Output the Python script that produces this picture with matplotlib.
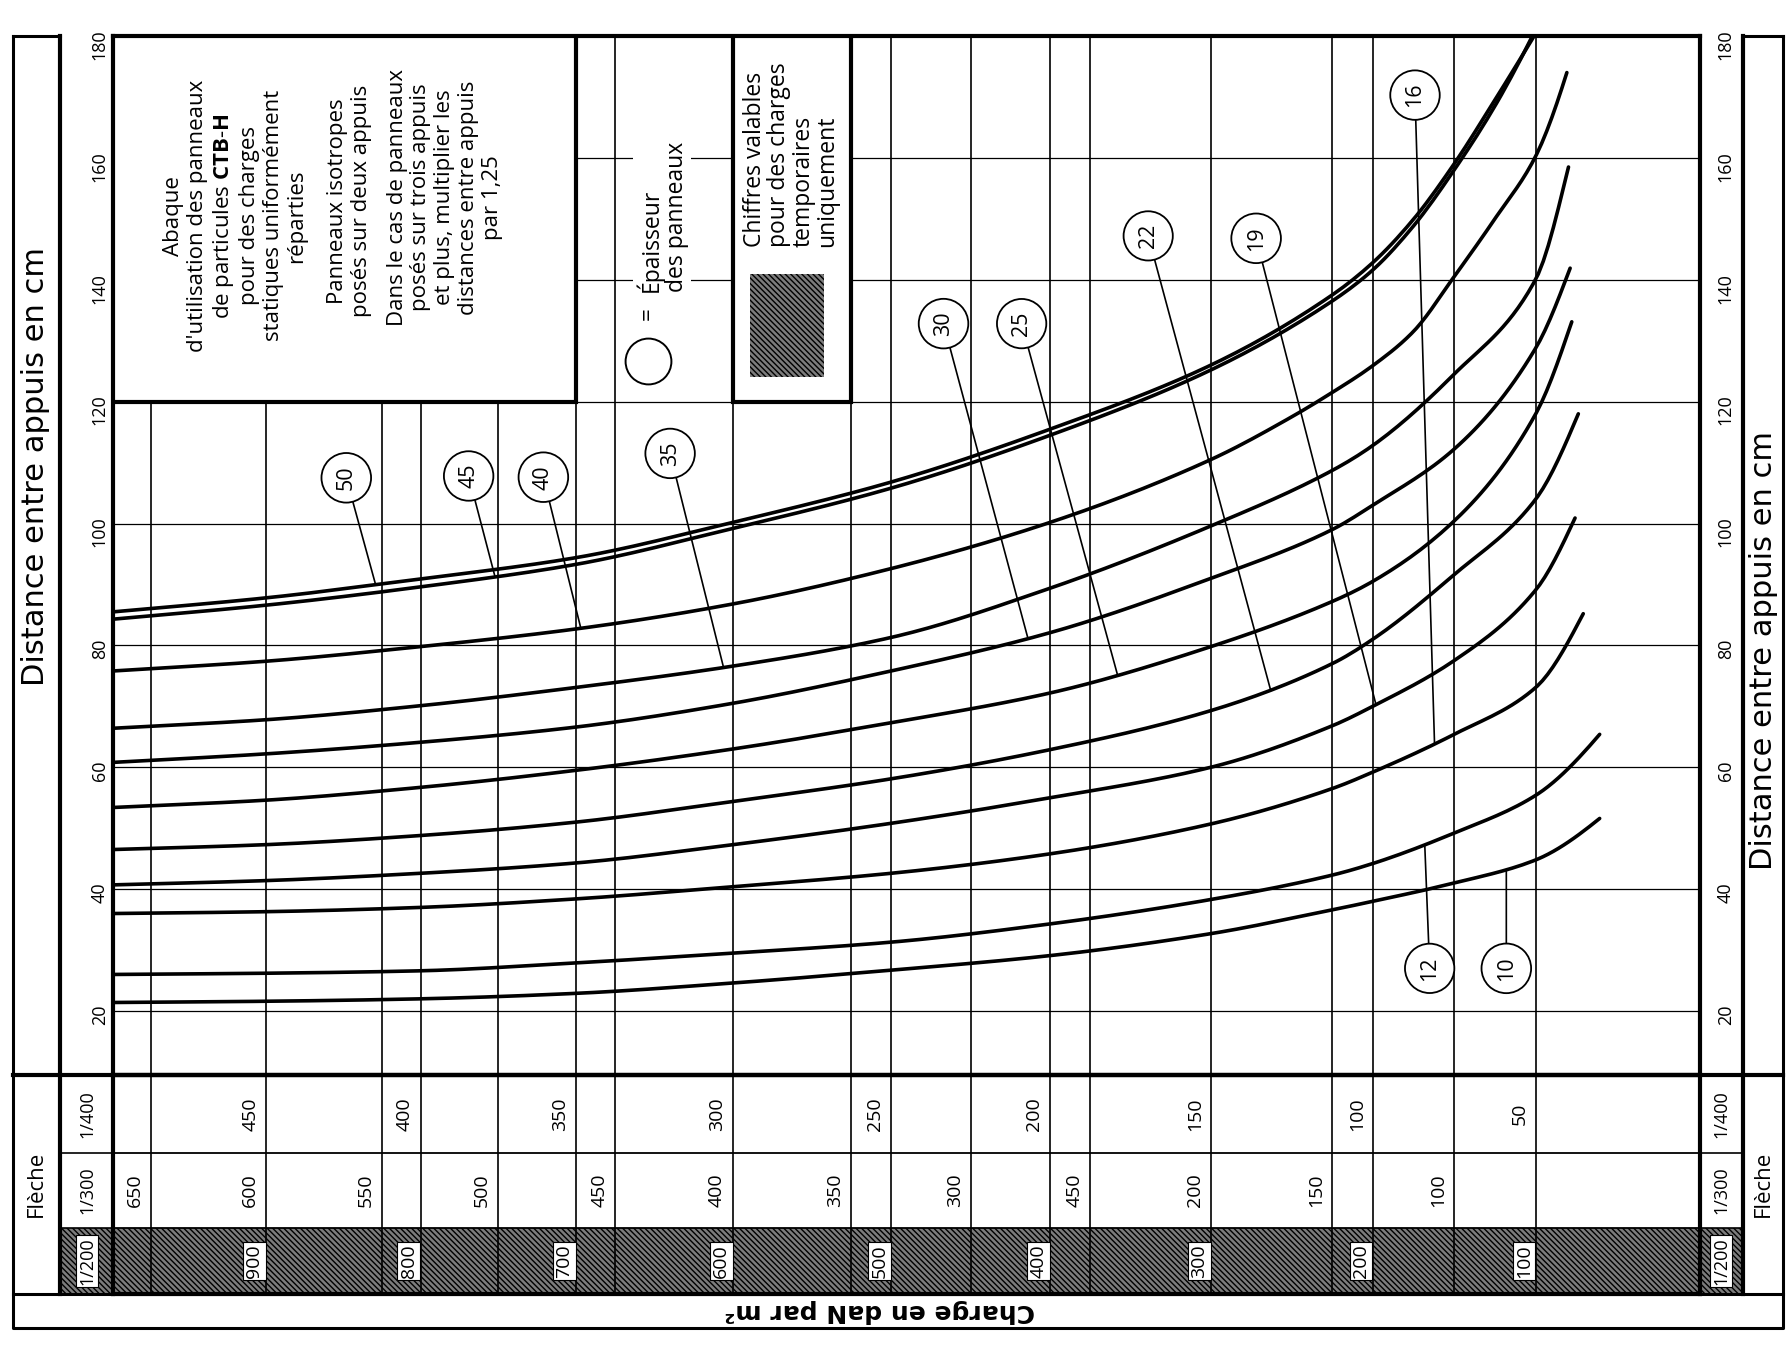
import numpy as np
import matplotlib
matplotlib.use("Agg")
import matplotlib.pyplot as plt
from matplotlib.patches import Rectangle

plt.rcParams['font.family'] = ['Open Sans', 'DejaVu Sans']
plt.rcParams['mathtext.fontset'] = 'custom'
plt.rcParams['mathtext.rm'] = 'Open Sans'
plt.rcParams['mathtext.bf'] = 'Open Sans:bold'
plt.rcParams['hatch.linewidth'] = 1.0

# charge (daN/m2, fleche 1/200) -> distance entre appuis (cm), one pair per thickness (mm)
c50 = [1000, 900, 800, 700, 600, 500, 400, 300, 225, 200, 175, 150, 125, 101]
d50 = [85.5, 87.8, 90.9, 94.4, 100.2, 106.8, 115.5, 126.0, 137.5, 142.8, 149.9, 159.0, 169.5, 180.0]
c45 = [1000, 900, 800, 700, 600, 500, 400, 300, 225, 200, 175, 150, 125, 103]
d45 = [84.3, 86.6, 89.6, 93.3, 99.2, 105.8, 114.5, 125.2, 136.5, 141.6, 148.8, 158.0, 168.5, 179.5]
c40 = [1000, 900, 800, 700, 600, 500, 400, 300, 250, 225, 200, 175, 150, 125, 100, 81]
d40 = [75.8, 77.4, 79.8, 82.7, 86.8, 92.6, 100.2, 110.5, 117.5, 121.5, 125.9, 131.5, 140.5, 150.0, 160.3, 174.0]
c35 = [1000, 900, 800, 700, 600, 500, 400, 300, 225, 200, 150, 100, 80]
d35 = [66.4, 67.8, 70.1, 73.1, 76.6, 81.3, 89.4, 99.6, 108.7, 112.8, 124.5, 140.1, 158.5]
c30 = [1000, 900, 800, 700, 600, 500, 400, 300, 225, 200, 150, 100, 79]
d30 = [60.8, 62.2, 64.1, 66.6, 70.5, 75.8, 82.1, 91.0, 99.0, 103.0, 112.2, 128.8, 141.9]
c25 = [1000, 900, 800, 700, 600, 500, 400, 300, 225, 200, 150, 100, 78]
d25 = [53.4, 54.6, 56.7, 59.5, 63.0, 67.3, 72.2, 79.8, 87.2, 90.5, 100.4, 118.0, 133.1]
c22 = [1000, 900, 800, 700, 600, 500, 400, 300, 225, 200, 150, 100, 74]
d22 = [46.5, 47.3, 48.8, 51.0, 54.4, 58.1, 62.9, 69.3, 77.0, 81.0, 91.6, 104.0, 118.0]
c19 = [1000, 900, 800, 700, 600, 500, 400, 300, 225, 200, 150, 100, 76]
d19 = [40.7, 41.4, 42.6, 44.3, 47.3, 50.8, 55.0, 60.0, 66.8, 70.0, 77.5, 89.1, 100.9]
c16 = [1000, 900, 800, 700, 600, 500, 400, 300, 225, 200, 150, 100, 71]
d16 = [36.0, 36.3, 37.0, 38.4, 40.4, 42.6, 45.8, 50.7, 56.5, 59.2, 65.4, 73.1, 85.2]
c12 = [1000, 900, 800, 700, 600, 500, 400, 300, 225, 200, 150, 100, 61]
d12 = [26.0, 26.2, 26.6, 27.9, 29.5, 31.3, 34.3, 38.3, 42.3, 44.2, 49.2, 55.4, 65.4]
c10 = [1000, 900, 800, 700, 600, 500, 400, 300, 225, 200, 150, 100, 61]
d10 = [21.4, 21.6, 22.0, 22.9, 24.6, 26.7, 29.1, 32.7, 36.6, 38.0, 41.0, 44.8, 51.6]

curves = {50: (c50, d50), 45: (c45, d45), 40: (c40, d40), 35: (c35, d35),
          30: (c30, d30), 25: (c25, d25), 22: (c22, d22), 19: (c19, d19),
          16: (c16, d16), 12: (c12, d12), 10: (c10, d10)}

# grid / scales
grid_charge = [975, 900, 825, 800, 750, 700, 675, 600, 525, 500, 450, 400, 375, 300, 225, 200, 150, 100]
dist_ticks = [20, 40, 60, 80, 100, 120, 140, 160, 180]
charge_200 = [900, 800, 700, 600, 500, 400, 300, 200, 100]
labels_200 = ['900', '800', '700', '600', '500', '400', '300', '200', '100']
charge_300 = [975, 900, 825, 750, 675, 600, 525, 450, 375, 300, 225, 150]
labels_300 = ['650', '600', '550', '500', '450', '400', '350', '300', '450', '200', '150', '100']
charge_400 = [900, 800, 700, 600, 500, 400, 300, 200, 100]
labels_400 = ['450', '400', '350', '300', '250', '200', '150', '100', '50']

# circled thickness labels: (label x, label y, charge where leader meets curve)
label_pos = {50: (848, 107.5, 829), 45: (769, 107.8, 752), 40: (721, 107.6, 697),
             35: (640, 111.5, 606), 30: (467, 132.8, 414), 25: (418, 132.8, 358),
             22: (339, 147.2, 263), 19: (272, 146.8, 198), 16: (174, 170.3, 162),
             12: (165, 27.0, 168), 10: (118, 27.0, 118)}

# the printed charge scale is slightly uneven (hand drawn): mild bow in the middle
BOW = 3.9e-5


def fwd(c):
    c = np.asarray(c, dtype=float)
    return c + BOW * (c - 100) * (1000 - c)


def inv(y):
    y = np.asarray(y, dtype=float)
    bb = 1 + 1100 * BOW
    disc = bb ** 2 - 4 * BOW * (100000 * BOW + y)
    return (bb - np.sqrt(np.maximum(disc, 0))) / (2 * BOW)


def smooth(cs, ds, n=300):
    # monotone cubic through the read points, for drawing only
    x = np.array(cs[::-1], dtype=float)
    y = np.array(ds[::-1], dtype=float)
    h = np.diff(x)
    dl = np.diff(y) / h
    m = np.zeros_like(y)
    for i in range(1, len(x) - 1):
        if dl[i - 1] * dl[i] > 0:
            w1 = 2 * h[i] + h[i - 1]
            w2 = h[i] + 2 * h[i - 1]
            m[i] = (w1 + w2) / (w1 / dl[i - 1] + w2 / dl[i])
    m0 = ((2 * h[0] + h[1]) * dl[0] - h[0] * dl[1]) / (h[0] + h[1])
    m[0] = m0 if np.sign(m0) == np.sign(dl[0]) and abs(m0) < 3 * abs(dl[0]) else dl[0]
    m[-1] = dl[-1]
    xn = np.linspace(x[0], x[-1], n)
    kk = np.clip(np.searchsorted(x, xn) - 1, 0, len(h) - 1)
    t = (xn - x[kk]) / h[kk]
    yn = ((2 * t ** 3 - 3 * t ** 2 + 1) * y[kk] + (t ** 3 - 2 * t ** 2 + t) * h[kk] * m[kk]
          + (-2 * t ** 3 + 3 * t ** 2) * y[kk + 1] + (t ** 3 - t ** 2) * h[kk] * m[kk + 1])
    return xn, yn


W, H = 1788, 1348
L, R, T, B, B2 = 113, 1700, 36, 1075, 1294

fig = plt.figure(figsize=(W / 100, H / 100), dpi=100)
fr = fig.add_axes([0, 0, 1, 1])
fr.set_xlim(0, W)
fr.set_ylim(H, 0)
fr.axis('off')
fr.set_zorder(0)

# outer frame and side columns
k = 'black'
fr.plot([13, 13, 1783, 1783], [T, 1328, 1328, T], color=k, lw=2.2)
fr.plot([13, 60], [T, T], color=k, lw=2.2)
fr.plot([1743, 1783], [T, T], color=k, lw=2.2)
fr.plot([60, 60], [T, B2], color=k, lw=3)
fr.plot([1743, 1743], [T, B2], color=k, lw=3)
fr.plot([13, 1783], [B, B], color=k, lw=3)
fr.plot([13, 1783], [B2, B2], color=k, lw=2.2)
for yy in [1153, 1228]:
    fr.plot([60, L], [yy, yy], color=k, lw=1.2)
    fr.plot([R, 1743], [yy, yy], color=k, lw=1.2)
fr.add_patch(Rectangle((60, 1228), 1743 - 60, B2 - 1228, facecolor='#7c7c7c',
                       edgecolor='black', hatch='\\\\\\\\\\\\', lw=0, zorder=0))

side = dict(rotation=90, ha='center', va='center', family=['DejaVu Sans'])
fr.text(36, 467, 'Distance entre appuis en cm', fontsize=22, **side)
fr.text(1763, 650, 'Distance entre appuis en cm', fontsize=22, **side)
fr.text(36, 1184, 'Flèche', rotation=90, ha='center', va='center', fontsize=16)
fr.text(1763, 1184, 'Flèche', rotation=90, ha='center', va='center', fontsize=16)
for xx in [87, 1721]:
    fr.text(xx, 1114, '1/400', rotation=90, ha='center', va='center', fontsize=13)
    fr.text(xx, 1190, '1/300', rotation=90, ha='center', va='center', fontsize=13)
    fr.text(xx, 1261, '1/200', rotation=90, ha='center', va='center', fontsize=13,
            bbox=dict(boxstyle='square,pad=0.12', fc='white', ec='black', lw=0.8))
fr.text(880, 1311, 'Charge en daN par m²', rotation=180, ha='center', va='center',
        fontsize=18, fontweight='bold', family=['DejaVu Sans'])

# main chart
ax = fig.add_axes([L / W, 1 - B / H, (R - L) / W, (B - T) / H])
ax.set_facecolor('none')
ax.set_zorder(1)
ax.set_xscale('function', functions=(fwd, inv))
ax.set_xlim(1000, 0)
ax.set_ylim(9.5, 180)
ax.vlines(grid_charge, 9.5, 180, color=k, lw=1.2, zorder=1)
ax.hlines(dist_ticks[:-1], 1000, 0, color=k, lw=0.9, zorder=1)

# text box and legend boxes
ax.add_patch(Rectangle((700, 120), 300, 60, fc='white', ec=k, lw=3, zorder=3))
ax.add_patch(Rectangle((525, 120), 75, 60, fc='white', ec=k, lw=3, zorder=3))
ax.add_patch(Rectangle((542.5, 124), 47, 17, fc='#7c7c7c', ec='black', hatch='\\\\\\\\\\\\', lw=0, zorder=4))

txt = dict(rotation=90, ha='center', va='center', fontsize=16, linespacing=1.17,
           multialignment='center', zorder=5)
ax.text(920, 150.5, "Abaque\nd'utilisation des panneaux\nde particules $\\mathbf{CTB}$-$\\mathbf{H}$\n"
        "pour des charges\nstatiques uniformément\nréparties", **txt)
ax.text(846, 152.9, "Panneaux isotropes\nposés sur deux appuis", **txt)
ax.text(784.5, 153.5, "Dans le cas de panneaux\nposés sur trois appuis\net plus, multiplier les\n"
        "distances entre appuis\npar 1,25", **txt)
ax.text(563, 145.4, "Chiffres valables\npour des charges\ntemporaires\nuniquement", rotation=90,
        ha='center', va='bottom', fontsize=16.5, linespacing=1.0, multialignment='left', zorder=5)

ax.plot([654], [126.7], ls='none', marker='o', ms=33, mfc='white', mec=k, mew=1.4, zorder=5)
ax.text(654, 134.5, '=', rotation=90, ha='center', va='center', fontsize=16, zorder=5,
        bbox=dict(boxstyle='square,pad=0.1', fc='white', ec='none'))
ax.text(645, 138.0, 'Épaisseur\ndes panneaux', rotation=90, ha='center', va='bottom', fontsize=16.5,
        linespacing=1.05, multialignment='left', zorder=5,
        bbox=dict(boxstyle='square,pad=0.1', fc='white', ec='none'))

drawn = {}
for t, (cc, dd) in curves.items():
    xs, ys = smooth(cc, dd)
    drawn[t] = (xs, ys)
    ax.plot(xs, ys, color=k, lw=2.6, zorder=4, solid_capstyle='round')

for t, (lx, ly, lc) in label_pos.items():
    xs, ys = drawn[t]
    yc = np.interp(lc, xs, ys)
    ax.annotate(str(t), xy=(lc, yc), xytext=(lx, ly), rotation=90, ha='center', va='center',
                fontsize=15.5, zorder=6,
                bbox=dict(boxstyle='circle,pad=0.58', fc='white', ec=k, lw=1.3),
                arrowprops=dict(arrowstyle='-', color=k, lw=1.2, shrinkA=0, shrinkB=0))

ax.set_xticks([])
ax.set_yticks(dist_ticks)
ax.set_yticklabels([str(v) for v in dist_ticks])
ax.tick_params(axis='y', length=0, pad=3, labelsize=13, labelrotation=90,
               labelleft=True, labelright=False)
for s in ax.spines.values():
    s.set_linewidth(3)

ax2 = ax.twinx()
ax2.set_ylim(9.5, 180)
ax2.set_yticks(dist_ticks)
ax2.set_yticklabels([str(v) for v in dist_ticks])
ax2.tick_params(axis='y', length=0, pad=12, labelsize=13, labelrotation=90)
for s in ax2.spines.values():
    s.set_visible(False)

# scale rows (fleche 1/400, 1/300, 1/200)
sc = fig.add_axes([L / W, 1 - B2 / H, (R - L) / W, (B2 - B) / H])
sc.set_facecolor('none')
sc.set_zorder(1)
sc.set_xscale('function', functions=(fwd, inv))
sc.set_xlim(1000, 0)
sc.set_ylim(0, 219)
sc.vlines(grid_charge, 0, 219, color=k, lw=1.2)
sc.hlines([66, 141], 1000, 0, color=k, lw=1.3)
sc.set_xticks([])
sc.set_yticks([])
sc.minorticks_off()
for s in sc.spines.values():
    s.set_linewidth(3)

for cv, lab in zip(charge_400, labels_400):
    sc.annotate(lab, xy=(cv, 180), xytext=(-5, 0), textcoords='offset points', rotation=90,
                ha='right', va='center', fontsize=14)
for cv, lab in zip(charge_300, labels_300):
    sc.annotate(lab, xy=(cv, 103.5), xytext=(-5, 0), textcoords='offset points', rotation=90,
                ha='right', va='center', fontsize=14)
for cv, lab in zip(charge_200, labels_200):
    sc.annotate(lab, xy=(cv, 33), xytext=(-2, 0), textcoords='offset points', rotation=90,
                ha='right', va='center', fontsize=14,
                bbox=dict(boxstyle='square,pad=0.12', fc='white', ec='black', lw=0.8))

ax.minorticks_off()
ax2.minorticks_off()
fig.savefig('out.png', dpi=100)
